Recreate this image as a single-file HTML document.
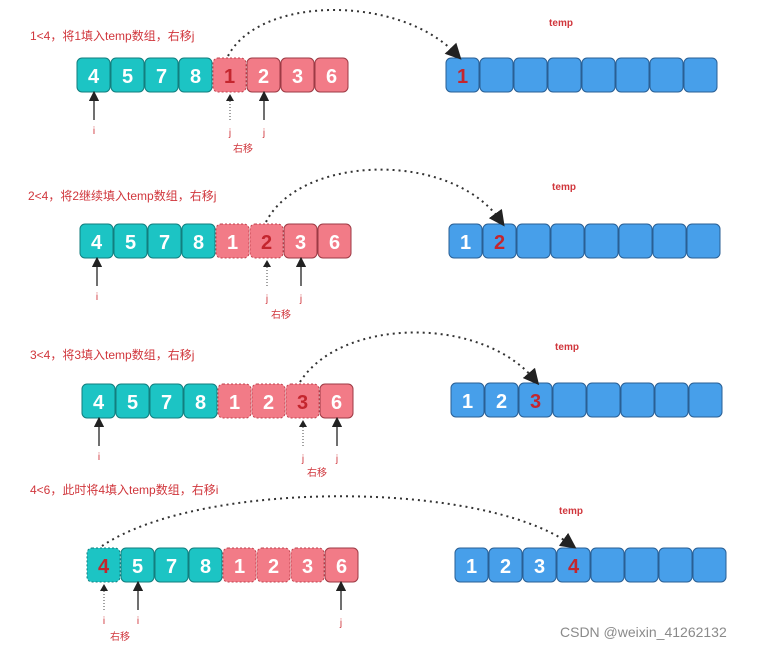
<!DOCTYPE html>
<html><head><meta charset="utf-8"><style>
body{margin:0;background:#fff;width:783px;height:650px;overflow:hidden}
svg text{font-family:"Liberation Sans","Noto Sans CJK SC",sans-serif}
.t{fill:#1cc4c4;stroke:#127e7e;stroke-width:1}
.p{fill:#f27b87;stroke:#9c3a44;stroke-width:1}
.pd{fill:#f27b87;stroke:#c0404c;stroke-width:1;stroke-dasharray:2 2}
.td{fill:#1cc4c4;stroke:#127e7e;stroke-width:1;stroke-dasharray:2 2}
.b{fill:#479fea;stroke:#2a5f94;stroke-width:1}
.n{fill:#fff;font-size:20px;font-weight:bold;text-anchor:middle}
.r{fill:#c4262e;font-size:20px;font-weight:bold;text-anchor:middle}
.lb{fill:#d0363c;font-size:12px}
.sm{fill:#d0363c;font-size:10px;text-anchor:middle}
.arc{fill:none;stroke:#333;stroke-width:2;stroke-dasharray:2 4}
.ar{stroke:#222;stroke-width:1.3}
.ad{stroke:#444;stroke-width:1;stroke-dasharray:1 2}
</style></head><body>
<svg width="783" height="650" viewBox="0 0 783 650">
<defs><marker id="m" markerWidth="8" markerHeight="8" refX="4" refY="4" orient="auto"><path d="M0,0 L8,4 L0,8 z" fill="#222"/></marker></defs>

<!-- Row 1 -->
<text class="lb" x="30" y="40">1&lt;4，将1填入temp数组，右移j</text>
<text class="sm" x="561" y="26" style="font-weight:bold">temp</text>
<g transform="translate(77,58)">
<rect class="t" x="0" width="33" height="34" rx="5"/><text class="n" x="16.5" y="25">4</text>
<rect class="t" x="34" width="33" height="34" rx="5"/><text class="n" x="50.5" y="25">5</text>
<rect class="t" x="68" width="33" height="34" rx="5"/><text class="n" x="84.5" y="25">7</text>
<rect class="t" x="102" width="33" height="34" rx="5"/><text class="n" x="118.5" y="25">8</text>
<rect class="pd" x="136" width="33" height="34" rx="5"/><text class="r" x="152.5" y="25">1</text>
<rect class="p" x="170" width="33" height="34" rx="5"/><text class="n" x="186.5" y="25">2</text>
<rect class="p" x="204" width="33" height="34" rx="5"/><text class="n" x="220.5" y="25">3</text>
<rect class="p" x="238" width="33" height="34" rx="5"/><text class="n" x="254.5" y="25">6</text>
</g>
<g transform="translate(446,58)">
<rect class="b" x="0" width="33" height="34" rx="5"/><text class="r" x="16.5" y="25">1</text>
<rect class="b" x="34" width="33" height="34" rx="5"/><rect class="b" x="68" width="33" height="34" rx="5"/><rect class="b" x="102" width="33" height="34" rx="5"/><rect class="b" x="136" width="33" height="34" rx="5"/><rect class="b" x="170" width="33" height="34" rx="5"/><rect class="b" x="204" width="33" height="34" rx="5"/><rect class="b" x="238" width="33" height="34" rx="5"/>
</g>
<path class="arc" d="M228,56 C260,-5 400,-5 456,54" marker-end="url(#m)"/>
<line class="ar" x1="94" y1="120" x2="94" y2="96" marker-end="url(#m)"/>
<line class="ad" x1="230" y1="120" x2="230" y2="97"/><path d="M226,101 L230,94 L234,101z" fill="#222"/>
<line class="ar" x1="264" y1="120" x2="264" y2="96" marker-end="url(#m)"/>
<text class="sm" x="94" y="134">i</text><text class="sm" x="230" y="136">j</text><text class="sm" x="264" y="136">j</text>
<text class="sm" x="243" y="152">右移</text>

<!-- Row 2 -->
<text class="lb" x="28" y="200">2&lt;4，将2继续填入temp数组，右移j</text>
<text class="sm" x="564" y="190" style="font-weight:bold">temp</text>
<g transform="translate(80,224)">
<rect class="t" x="0" width="33" height="34" rx="5"/><text class="n" x="16.5" y="25">4</text>
<rect class="t" x="34" width="33" height="34" rx="5"/><text class="n" x="50.5" y="25">5</text>
<rect class="t" x="68" width="33" height="34" rx="5"/><text class="n" x="84.5" y="25">7</text>
<rect class="t" x="102" width="33" height="34" rx="5"/><text class="n" x="118.5" y="25">8</text>
<rect class="pd" x="136" width="33" height="34" rx="5"/><text class="n" x="152.5" y="25">1</text>
<rect class="pd" x="170" width="33" height="34" rx="5"/><text class="r" x="186.5" y="25">2</text>
<rect class="p" x="204" width="33" height="34" rx="5"/><text class="n" x="220.5" y="25">3</text>
<rect class="p" x="238" width="33" height="34" rx="5"/><text class="n" x="254.5" y="25">6</text>
</g>
<g transform="translate(449,224)">
<rect class="b" x="0" width="33" height="34" rx="5"/><text class="n" x="16.5" y="25">1</text>
<rect class="b" x="34" width="33" height="34" rx="5"/><text class="r" x="50.5" y="25">2</text>
<rect class="b" x="68" width="33" height="34" rx="5"/><rect class="b" x="102" width="33" height="34" rx="5"/><rect class="b" x="136" width="33" height="34" rx="5"/><rect class="b" x="170" width="33" height="34" rx="5"/><rect class="b" x="204" width="33" height="34" rx="5"/><rect class="b" x="238" width="33" height="34" rx="5"/>
</g>
<path class="arc" d="M266,222 C300,155 450,150 500,220" marker-end="url(#m)"/>
<line class="ar" x1="97" y1="286" x2="97" y2="262" marker-end="url(#m)"/>
<line class="ad" x1="267" y1="286" x2="267" y2="263"/><path d="M263,267 L267,260 L271,267z" fill="#222"/>
<line class="ar" x1="301" y1="286" x2="301" y2="262" marker-end="url(#m)"/>
<text class="sm" x="97" y="300">i</text><text class="sm" x="267" y="302">j</text><text class="sm" x="301" y="302">j</text>
<text class="sm" x="281" y="318">右移</text>

<!-- Row 3 -->
<text class="lb" x="30" y="359">3&lt;4，将3填入temp数组，右移j</text>
<text class="sm" x="567" y="350" style="font-weight:bold">temp</text>
<g transform="translate(82,384)">
<rect class="t" x="0" width="33" height="34" rx="5"/><text class="n" x="16.5" y="25">4</text>
<rect class="t" x="34" width="33" height="34" rx="5"/><text class="n" x="50.5" y="25">5</text>
<rect class="t" x="68" width="33" height="34" rx="5"/><text class="n" x="84.5" y="25">7</text>
<rect class="t" x="102" width="33" height="34" rx="5"/><text class="n" x="118.5" y="25">8</text>
<rect class="pd" x="136" width="33" height="34" rx="5"/><text class="n" x="152.5" y="25">1</text>
<rect class="pd" x="170" width="33" height="34" rx="5"/><text class="n" x="186.5" y="25">2</text>
<rect class="pd" x="204" width="33" height="34" rx="5"/><text class="r" x="220.5" y="25">3</text>
<rect class="p" x="238" width="33" height="34" rx="5"/><text class="n" x="254.5" y="25">6</text>
</g>
<g transform="translate(451,383)">
<rect class="b" x="0" width="33" height="34" rx="5"/><text class="n" x="16.5" y="25">1</text>
<rect class="b" x="34" width="33" height="34" rx="5"/><text class="n" x="50.5" y="25">2</text>
<rect class="b" x="68" width="33" height="34" rx="5"/><text class="r" x="84.5" y="25">3</text>
<rect class="b" x="102" width="33" height="34" rx="5"/><rect class="b" x="136" width="33" height="34" rx="5"/><rect class="b" x="170" width="33" height="34" rx="5"/><rect class="b" x="204" width="33" height="34" rx="5"/><rect class="b" x="238" width="33" height="34" rx="5"/>
</g>
<path class="arc" d="M300,382 C340,318 480,315 534,379" marker-end="url(#m)"/>
<line class="ar" x1="99" y1="446" x2="99" y2="422" marker-end="url(#m)"/>
<line class="ad" x1="303" y1="446" x2="303" y2="423"/><path d="M299,427 L303,420 L307,427z" fill="#222"/>
<line class="ar" x1="337" y1="446" x2="337" y2="422" marker-end="url(#m)"/>
<text class="sm" x="99" y="460">i</text><text class="sm" x="303" y="462">j</text><text class="sm" x="337" y="462">j</text>
<text class="sm" x="317" y="476">右移</text>

<!-- Row 4 -->
<text class="lb" x="30" y="494">4&lt;6，此时将4填入temp数组，右移i</text>
<text class="sm" x="571" y="514" style="font-weight:bold">temp</text>
<g transform="translate(87,548)">
<rect class="td" x="0" width="33" height="34" rx="5"/><text class="r" x="16.5" y="25">4</text>
<rect class="t" x="34" width="33" height="34" rx="5"/><text class="n" x="50.5" y="25">5</text>
<rect class="t" x="68" width="33" height="34" rx="5"/><text class="n" x="84.5" y="25">7</text>
<rect class="t" x="102" width="33" height="34" rx="5"/><text class="n" x="118.5" y="25">8</text>
<rect class="pd" x="136" width="33" height="34" rx="5"/><text class="n" x="152.5" y="25">1</text>
<rect class="pd" x="170" width="33" height="34" rx="5"/><text class="n" x="186.5" y="25">2</text>
<rect class="pd" x="204" width="33" height="34" rx="5"/><text class="n" x="220.5" y="25">3</text>
<rect class="p" x="238" width="33" height="34" rx="5"/><text class="n" x="254.5" y="25">6</text>
</g>
<g transform="translate(455,548)">
<rect class="b" x="0" width="33" height="34" rx="5"/><text class="n" x="16.5" y="25">1</text>
<rect class="b" x="34" width="33" height="34" rx="5"/><text class="n" x="50.5" y="25">2</text>
<rect class="b" x="68" width="33" height="34" rx="5"/><text class="n" x="84.5" y="25">3</text>
<rect class="b" x="102" width="33" height="34" rx="5"/><text class="r" x="118.5" y="25">4</text>
<rect class="b" x="136" width="33" height="34" rx="5"/><rect class="b" x="170" width="33" height="34" rx="5"/><rect class="b" x="204" width="33" height="34" rx="5"/><rect class="b" x="238" width="33" height="34" rx="5"/>
</g>
<path class="arc" d="M102,546 C200,480 480,480 570,544" marker-end="url(#m)"/>
<line class="ad" x1="104" y1="610" x2="104" y2="587"/><path d="M100,591 L104,584 L108,591z" fill="#222"/>
<line class="ar" x1="138" y1="610" x2="138" y2="586" marker-end="url(#m)"/>
<line class="ar" x1="341" y1="610" x2="341" y2="586" marker-end="url(#m)"/>
<text class="sm" x="104" y="624">i</text><text class="sm" x="138" y="624">i</text><text class="sm" x="341" y="626">j</text>
<text class="sm" x="120" y="640">右移</text>

<text x="560" y="637" style="font-size:14px;fill:#8a8a8a">CSDN @weixin_41262132</text>
</svg>
</body></html>
